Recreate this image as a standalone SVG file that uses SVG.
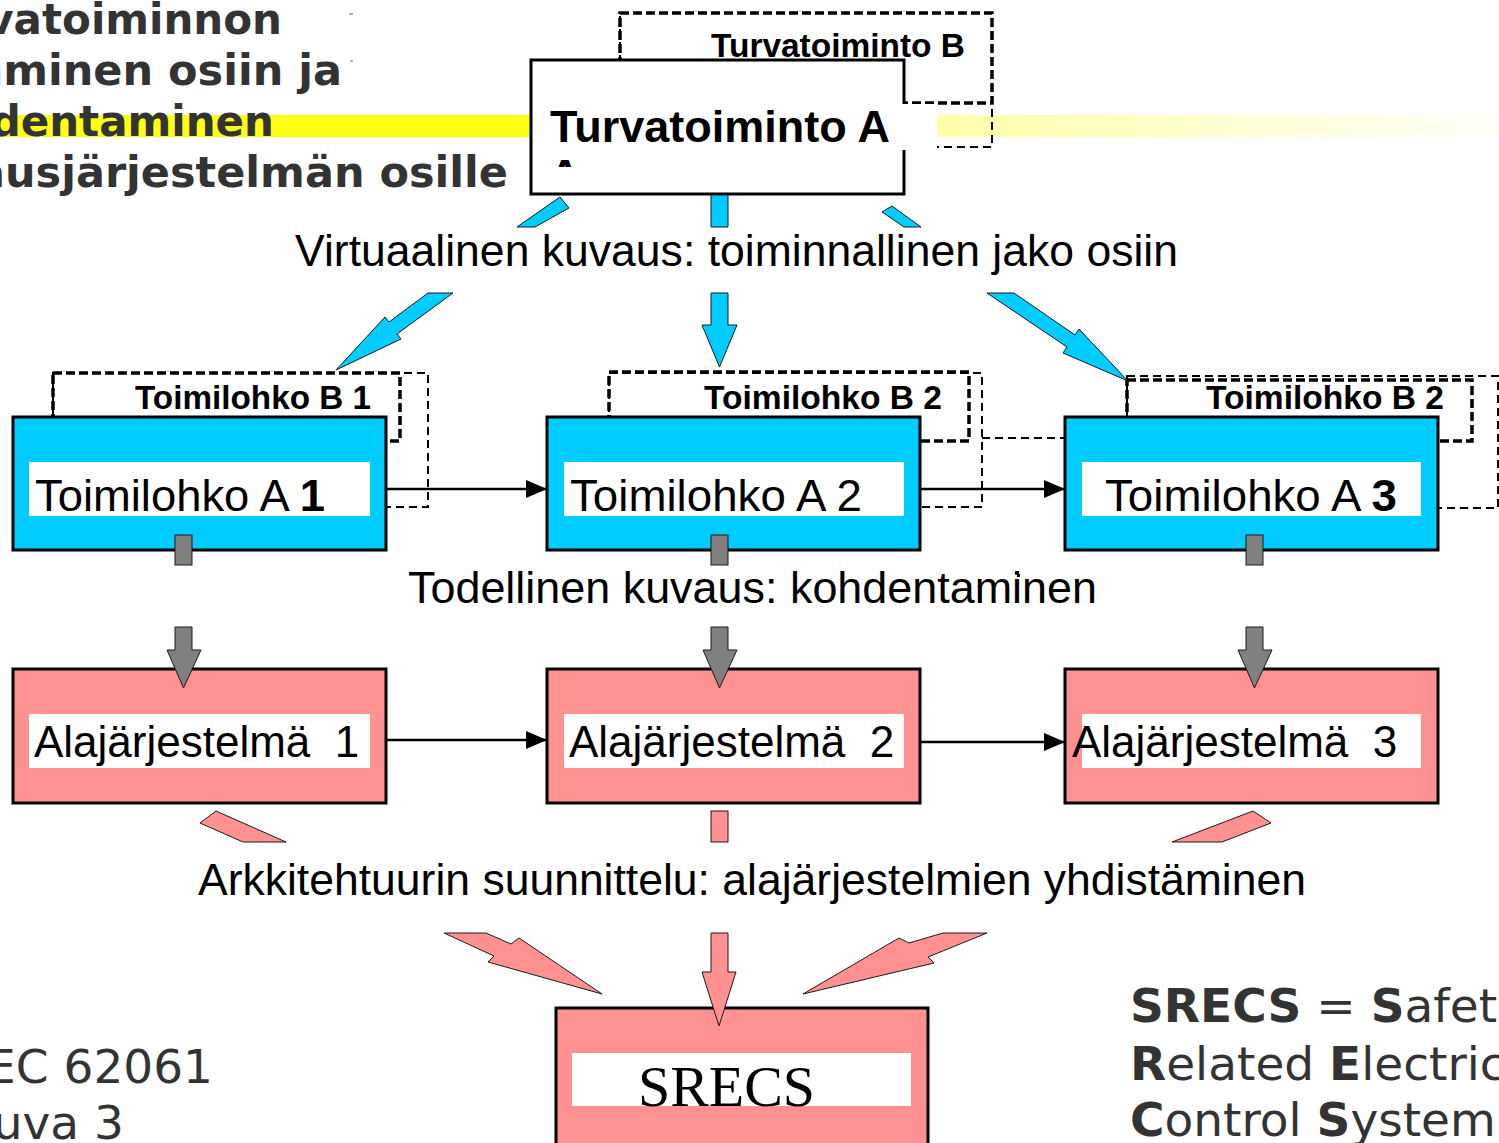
<svg xmlns="http://www.w3.org/2000/svg" width="1499" height="1143" viewBox="0 0 1499 1143">
<defs>
<style>
.title{font-family:"DejaVu Sans",Verdana,sans-serif;font-weight:bold;font-size:42px;fill:#333;}
.note{font-family:"DejaVu Sans",Verdana,sans-serif;font-size:47px;fill:#333;}
.nb{font-weight:bold;}
.lbl{font-family:"Liberation Sans",Arial,sans-serif;font-size:44px;fill:#000;}
.lblb{font-family:"Liberation Sans",Arial,sans-serif;font-size:33px;font-weight:bold;fill:#000;}
.big{font-family:"Liberation Sans",Arial,sans-serif;font-size:44px;font-weight:bold;fill:#000;}
.srecs{font-family:"Liberation Serif","Times New Roman",serif;font-size:56px;fill:#000;}
.box{stroke:#000;stroke-width:3;}
.blue{fill:#00CCFF;}
.pink{fill:#FF9191;}
.white{fill:#fff;}
.plate{fill:#fff;}
.bdash{fill:none;stroke:#000;stroke-width:3.5;stroke-dasharray:9 4;}
.tdash{fill:none;stroke:#000;stroke-width:2;stroke-dasharray:8 5;}
.flow{stroke:#000;stroke-width:2.5;fill:none;marker-end:url(#head);}
.ab{fill:#00CCFF;stroke:#1a1a1a;stroke-width:1;}
.ag{fill:#808080;stroke:#1a1a1a;stroke-width:1;}
.ap{fill:#FF9191;stroke:#1a1a1a;stroke-width:1;}
</style>
<marker id="head" markerUnits="userSpaceOnUse" markerWidth="22" markerHeight="20" refX="21" refY="10" orient="auto">
<path d="M0,1 L21,10 L0,19 z" fill="#000"/>
</marker>
<linearGradient id="fade" x1="0" x2="1" y1="0" y2="0">
<stop offset="0" stop-color="#FFFFA8"/>
<stop offset="1" stop-color="#FFFFFA"/>
</linearGradient>
<clipPath id="cutA"><rect x="540" y="150" width="50" height="17"/></clipPath>
</defs>

<!-- highlight band behind the heading -->
<rect x="0" y="115" width="532" height="22" fill="#FFFF14"/>
<rect x="937" y="115" width="562" height="22" fill="url(#fade)"/>

<!-- heading -->
<g id="heading" class="title" text-anchor="end">
<text x="282" y="34">vatoiminnon</text>
<text x="342" y="85" font-size="43">aminen osiin ja</text>
<text x="274" y="136">dentaminen</text>
<text x="508" y="187" font-size="43">ausjärjestelmän osille</text>
</g>
<path d="M349,14h4M350,61h3" stroke="#666" stroke-width="1"/>

<!-- safety function B (dashed outline behind A) -->
<g id="turva-b">
<rect class="tdash" x="620" y="13" width="372" height="134"/>
<rect class="bdash" x="620" y="13" width="372" height="90"/>
<text class="lblb" x="711" y="57" textLength="254" lengthAdjust="spacingAndGlyphs">Turvatoiminto B</text>
</g>

<!-- safety function A -->
<g id="turva-a">
<rect class="box white" x="531" y="60" width="373" height="134"/>
<rect class="plate" x="535" y="104" width="402" height="46"/>
<text class="big" x="550" y="142" textLength="340" lengthAdjust="spacingAndGlyphs">Turvatoiminto A</text>
<text class="big" x="549" y="191" clip-path="url(#cutA)">A</text>
</g>

<!-- function blocks -->
<g id="lohko-1">
<rect class="tdash" x="53" y="373" width="375" height="134"/>
<rect class="bdash" x="53" y="373" width="347" height="68"/>
<text class="lblb" x="135" y="409" textLength="236" lengthAdjust="spacingAndGlyphs">Toimilohko B 1</text>
<rect class="box blue" x="13" y="417" width="373" height="133"/>
<rect class="plate" x="29" y="462" width="341" height="54"/>
<text class="lbl" x="35" y="511" textLength="290" lengthAdjust="spacingAndGlyphs">Toimilohko A <tspan font-weight="bold">1</tspan></text>
</g>
<g id="lohko-2">
<rect class="tdash" x="609" y="373" width="373" height="134"/>
<rect class="bdash" x="609" y="372" width="360" height="69"/>
<text class="lblb" x="704" y="409" textLength="238" lengthAdjust="spacingAndGlyphs">Toimilohko B 2</text>
<rect class="box blue" x="547" y="417" width="373" height="133"/>
<rect class="plate" x="564" y="462" width="340" height="54"/>
<text class="lbl" x="570" y="511" textLength="292" lengthAdjust="spacingAndGlyphs">Toimilohko A 2</text>
</g>
<g id="lohko-3">
<rect class="tdash" x="1127" y="376" width="371" height="132"/>
<rect class="bdash" x="1127" y="380" width="345" height="61"/>
<text class="lblb" x="1206" y="409" textLength="238" lengthAdjust="spacingAndGlyphs">Toimilohko B 2</text>
<rect class="box blue" x="1065" y="417" width="373" height="133"/>
<rect class="plate" x="1082" y="462" width="339" height="54"/>
<text class="lbl" x="1105" y="511" textLength="292" lengthAdjust="spacingAndGlyphs">Toimilohko A <tspan font-weight="bold">3</tspan></text>
</g>

<!-- subsystems -->
<g id="ala-1">
<rect class="box pink" x="13" y="669" width="373" height="134"/>
<rect class="plate" x="29" y="714" width="341" height="54"/>
<text class="lbl" x="34" y="757" xml:space="preserve">Alajärjestelmä  1</text>
</g>
<g id="ala-2">
<rect class="box pink" x="547" y="669" width="373" height="134"/>
<rect class="plate" x="564" y="714" width="340" height="54"/>
<text class="lbl" x="569" y="757" xml:space="preserve">Alajärjestelmä  2</text>
</g>
<g id="ala-3">
<rect class="box pink" x="1065" y="669" width="373" height="134"/>
<rect class="plate" x="1082" y="714" width="339" height="54"/>
<text class="lbl" x="1072" y="757" xml:space="preserve">Alajärjestelmä  3</text>
</g>

<!-- whole system -->
<g id="srecs">
<rect class="box pink" x="556" y="1008" width="372" height="140"/>
<rect class="plate" x="572" y="1053" width="339" height="53"/>
<text class="srecs" x="638" y="1106" textLength="177" lengthAdjust="spacingAndGlyphs">SRECS</text>
</g>

<!-- connectors, drawn over the blocks they enter -->
<g id="connectors">
<!-- blue: functional decomposition -->
<polygon class="ab" points="560,197 569,208 535,227 517,227"/>
<polygon class="ab" points="711,195 728,195 728,227 711,227"/>
<polygon class="ab" points="882,212 892,206 921,227 904,227"/>
<polygon class="ab" points="428,293 453,293 397,334 401,339 336,370 385,317 389,322"/>
<polygon class="ab" points="711,293 728,293 728,325 737,325 719.5,367 702,325 711,325"/>
<polygon class="ab" points="987,293 1014,293 1075,335 1079,329 1128,381 1063,353 1067,347"/>
<!-- grey: allocation -->
<rect class="ag" x="175" y="535" width="17" height="30"/>
<rect class="ag" x="711" y="535" width="17" height="30"/>
<rect class="ag" x="1246" y="535" width="17" height="30"/>
<polygon class="ag" points="175,627 192,627 192,650 201,650 183.5,688 167,650 175,650"/>
<polygon class="ag" points="711,627 728,627 728,650 737,650 719.5,688 703,650 711,650"/>
<polygon class="ag" points="1246,627 1263,627 1263,650 1272,650 1254.5,688 1238,650 1246,650"/>
<!-- pink: integration -->
<polygon class="ap" points="200,823 216,811 286,842 243,842"/>
<rect class="ap" x="711" y="811" width="17" height="31"/>
<polygon class="ap" points="1253,811 1271,823 1222,842 1172,842"/>
<polygon class="ap" points="444,933 486,933 511,944 519,938 602,994 488,962 494,956"/>
<polygon class="ap" points="711,933 728,933 728,972 736,972 719,1026 702,972 711,972"/>
<polygon class="ap" points="987,933 943,933 909,943 899,938 803,994 934,963 928,957"/>
<!-- signal flow -->
<line class="flow" x1="386" y1="489" x2="547" y2="489"/>
<line class="flow" x1="920" y1="489" x2="1065" y2="489"/>
<line class="flow" x1="386" y1="740" x2="547" y2="740"/>
<line class="flow" x1="920" y1="742" x2="1065" y2="742"/>
<line class="tdash" x1="982" y1="438" x2="1066" y2="438"/>
</g>

<!-- stage captions -->
<g id="captions" class="lbl">
<text x="295" y="266" textLength="883" lengthAdjust="spacingAndGlyphs">Virtuaalinen kuvaus: toiminnallinen jako osiin</text>
<text x="408" y="603" textLength="689" lengthAdjust="spacingAndGlyphs">Todellinen kuvaus: kohdentaminen</text>
<text x="198" y="895" textLength="1108" lengthAdjust="spacingAndGlyphs">Arkkitehtuurin suunnittelu: alajärjestelmien yhdistäminen</text>
</g>
<rect x="1017" y="574" width="3" height="3" fill="#000"/>

<!-- source and abbreviation -->
<g id="source" class="note" text-anchor="end">
<text x="213" y="1083">EC 62061</text>
<text x="124" y="1139">uva 3</text>
</g>
<g id="abbrev" class="note">
<text x="1130" y="1022"><tspan class="nb">SRECS</tspan> = <tspan class="nb">S</tspan>afet</text>
<text x="1130" y="1080"><tspan class="nb">R</tspan>elated <tspan class="nb">E</tspan>lectric</text>
<text x="1130" y="1136"><tspan class="nb">C</tspan>ontrol <tspan class="nb">S</tspan>ystem</text>
</g>
</svg>
